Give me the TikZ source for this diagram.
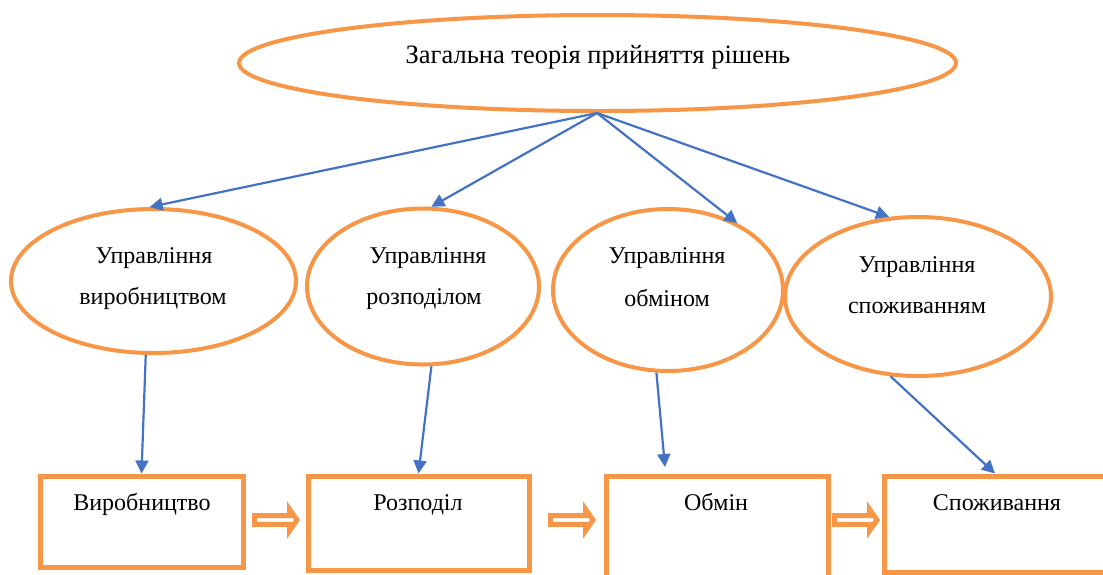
\documentclass[tikz,border=0pt]{standalone}
\usepackage{fontspec}
\setmainfont{Liberation Serif}
\usetikzlibrary{shapes.geometric,arrows.meta}
\definecolor{acc}{HTML}{F79646}
\definecolor{lnk}{HTML}{4472C4}
\begin{document}
\begin{tikzpicture}[x=1pt,y=-1pt,
  oval/.style={ellipse, draw=acc, line width=4pt, inner sep=0pt},
  boxn/.style={rectangle, draw=acc, line width=5pt, inner sep=0pt},
  lbl/.style={anchor=base, inner sep=0pt, font=\fontsize{24}{28}\selectfont},
  biglbl/.style={lbl, font=\fontsize{26.5}{30}\selectfont},
  link/.style={draw=lnk, line width=2.2pt, -{Triangle[length=13pt,width=13pt]}},
  barrow/.style={draw=acc, line width=5pt, fill=white, line join=miter},
  blockarr/.pic={\draw[barrow] (0,-4.3) -- (35,-4.3) -- (35,-10.8) -- (42.5,0) -- (35,10.8) -- (35,4.3) -- (0,4.3) -- cycle;}
  ]
\useasboundingbox (0,0) rectangle (1103,574);
\clip (0,0) rectangle (1103,574);
\fill[white] (0,0) rectangle (1103,574);

% ellipses
\node[oval, minimum width=717pt, minimum height=96pt] (top) at (597.5,63) {};
\node[oval, minimum width=285pt, minimum height=144pt] (e1) at (153.5,281) {};
\node[oval, minimum width=232pt, minimum height=156pt] (e2) at (423,286.5) {};
\node[oval, minimum width=230pt, minimum height=162pt] (e3) at (668,290) {};
\node[oval, minimum width=266pt, minimum height=159pt] (e4) at (918,296.5) {};

% boxes
\node[boxn, minimum width=203pt, minimum height=91pt] (b1) at (141.5,521.5) {};
\node[boxn, minimum width=221pt, minimum height=94pt] (b2) at (418.5,523) {};
\node[boxn, minimum width=222pt, minimum height=102pt] (b3) at (717,527) {};
\node[boxn, minimum width=222pt, minimum height=96pt] (b4) at (995,524) {};

% texts
\node[biglbl] (t0) at (598,63) {Загальна теорія прийняття рішень};
\node[lbl] (t1a) at (154,263) {Управління};
\node[lbl] (t1b) at (153,304) {виробництвом};
\node[lbl] (t2a) at (428,263) {Управління};
\node[lbl] (t2b) at (424,304) {розподілом};
\node[lbl] (t3a) at (667,263) {Управління};
\node[lbl] (t3b) at (667,306) {обміном};
\node[lbl] (t4a) at (917,272) {Управління};
\node[lbl] (t4b) at (917,313) {споживанням};
\node[lbl] (tb1) at (142,510) {Виробництво};
\node[lbl] (tb2) at (418,510) {Розподіл};
\node[lbl] (tb3) at (716,510) {Обмін};
\node[lbl] (tb4) at (997,510) {Споживання};

% connectors
\coordinate (src) at (597,113);
\coordinate (tip3) at (665,467);
\draw[link] (src) -- (e1.93);
\draw[link] (src) -- (e2.84);
\draw[link] (src) -- (e3.44);
\draw[link] (src) -- (e4.110);
\draw[link] (e1.264) -- (b1.north);
\draw[link] (e2.276) -- (b2.north);
\draw[link] (e3.262) -- (tip3);
\draw[link] (e4.251) -- (b4.north);

% block arrows
\pic at (254.5,520) {blockarr};
\pic at (550.5,520) {blockarr};
\pic at (834.5,520) {blockarr};
\end{tikzpicture}
\end{document}
